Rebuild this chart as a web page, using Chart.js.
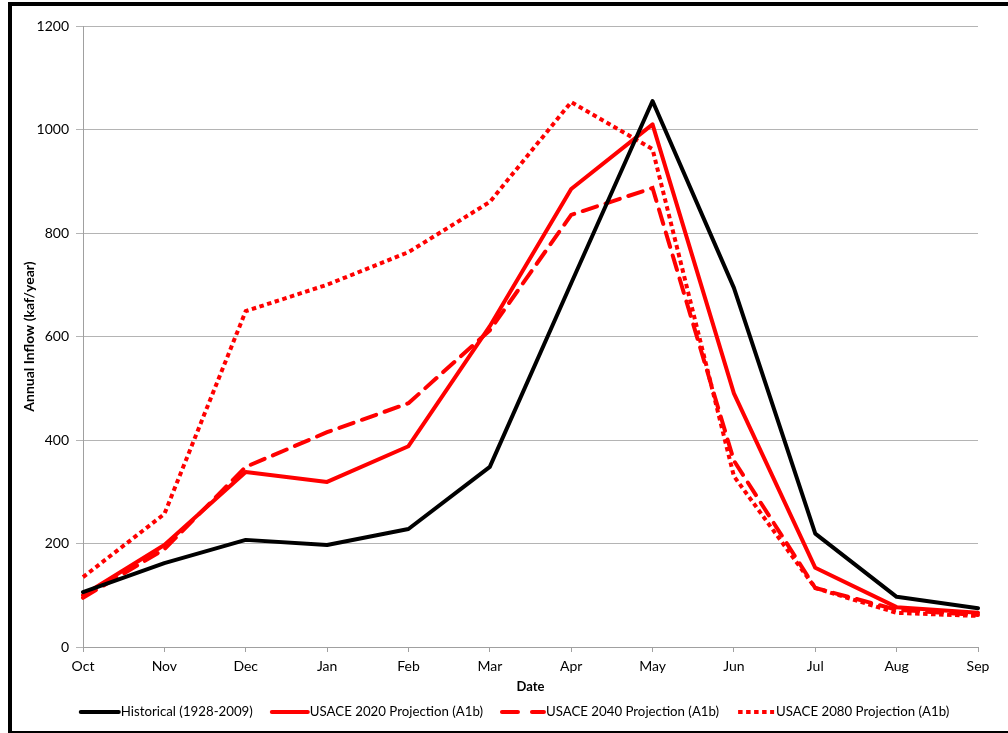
<!DOCTYPE html>
<html>
<head>
<meta charset="utf-8">
<script src="https://cdn.jsdelivr.net/npm/chart.js@4.4.0/dist/chart.umd.min.js"></script>
<style>
  html, body { margin: 0; padding: 0; background: #fff; overflow: hidden; }
  #frame { position: absolute; left: 8px; top: 2px; width: 1100px; height: 725px;
           border-left: 4px solid #000; border-top: 4px solid #000; border-bottom: 2px solid #000; }
  #wrap { position: absolute; left: 0; top: 0; width: 1008px; height: 733px; }
</style>
</head>
<body>
<div id="frame"></div>
<div id="wrap"><canvas id="c" width="1008" height="733"></canvas></div>
<script>
const months = ['Oct','Nov','Dec','Jan','Feb','Mar','Apr','May','Jun','Jul','Aug','Sep'];
const historical = [106,162,207,197,228,348,703,1055,694,219,97,75];
const usace2020  = [100,197,338,319,388,620,885,1010,490,153,77,66];
const usace2040  = [95,189,348,415,471,612,835,887,360,114,72,62];
const usace2080  = [135,257,649,700,763,860,1053,962,330,114,66,60];
const yTicks = [0,200,400,600,800,1000,1200];

const FONT = 'Lato, "Noto Sans", sans-serif';

const legendPlugin = {
  id: 'customLegend',
  afterDraw(chart) {
    const ctx = chart.ctx;
    ctx.save();
    ctx.font = '13.25px ' + FONT;
    const items = chart.data.datasets.map(ds => ({
      text: ds.label, color: ds.borderColor, dash: ds.legendDash || [], sw: ds.legendSample, cap: ds.borderCapStyle || 'butt'
    }));
    const gapText = 2, gapItem = 17;
    let total = 0;
    items.forEach((it, i) => {
      it.tw = ctx.measureText(it.text).width;
      total += it.sw + gapText + it.tw + (i < items.length - 1 ? gapItem : 0);
    });
    let x = 514 - total / 2;
    const y = 712;
    items.forEach(it => {
      ctx.beginPath();
      ctx.strokeStyle = it.color;
      ctx.lineWidth = 4;
      ctx.lineCap = it.cap;
      ctx.setLineDash(it.dash);
      ctx.moveTo(x + 2, y);
      ctx.lineTo(x + it.sw, y);
      ctx.stroke();
      ctx.setLineDash([]);
      x += it.sw + gapText;
      ctx.fillStyle = '#000';
      ctx.textBaseline = 'middle';
      ctx.textAlign = 'left';
      ctx.fillText(it.text, x, y);
      x += it.tw + gapItem;
    });
    ctx.restore();
  }
};

new Chart(document.getElementById('c'), {
  type: 'line',
  data: {
    labels: months,
    datasets: [
      { label: 'Historical (1928-2009)', data: historical, borderColor: '#000000', borderWidth: 4,
        borderCapStyle: 'round', borderJoinStyle: 'round', legendSample: 40 },
      { label: 'USACE 2020 Projection (A1b)', data: usace2020, borderColor: '#ff0000', borderWidth: 4,
        borderCapStyle: 'round', borderJoinStyle: 'round', legendSample: 38 },
      { label: 'USACE 2040 Projection (A1b)', data: usace2040, borderColor: '#ff0000', borderWidth: 4,
        borderDash: [15, 9], borderCapStyle: 'round', legendDash: [16, 14], legendSample: 44 },
      { label: 'USACE 2080 Projection (A1b)', data: usace2080, borderColor: '#ff0000', borderWidth: 4,
        borderDash: [4.5, 3.5], borderCapStyle: 'butt', legendDash: [4.5, 3.5], legendSample: 38 }
    ]
  },
  options: {
    responsive: false,
    animation: false,
    devicePixelRatio: 1,
    layout: { padding: { left: 14, top: 26, right: 30, bottom: 36 } },
    elements: { point: { radius: 0, hoverRadius: 0 }, line: { tension: 0, fill: false } },
    plugins: { legend: { display: false }, tooltip: { enabled: false } },
    scales: {
      x: {
        type: 'category',
        offset: false,
        afterFit(s) { s.height = 50; },
        grid: { drawOnChartArea: false, drawTicks: true, tickLength: 5, color: '#a0a0a0' },
        border: { display: true, color: '#a0a0a0', width: 1 },
        ticks: { color: '#000', font: { family: FONT, size: 14 }, padding: 6, maxRotation: 0, autoSkip: false },
        title: { display: true, text: 'Date', color: '#000', font: { family: FONT, size: 13, weight: 'bold' },
                 padding: { top: 0, bottom: 2 } }
      },
      y: {
        min: 0, max: 1200,
        afterFit(s) { s.width = 69; },
        afterBuildTicks(s) { s.ticks = yTicks.map(v => ({ value: v })); },
        grid: { color: '#b4b4b4', tickLength: 7, drawTicks: true },
        border: { display: true, color: '#a0a0a0', width: 1 },
        ticks: { color: '#000', font: { family: FONT, size: 14 }, padding: 7, callback: v => String(v) },
        title: { display: true, text: 'Annual Inflow (kaf/year)', color: '#000',
                 font: { family: FONT, size: 14, weight: 'bold' }, padding: { top: 7, bottom: 0 } }
      }
    }
  },
  plugins: [legendPlugin]
});
</script>
</body>
</html>
